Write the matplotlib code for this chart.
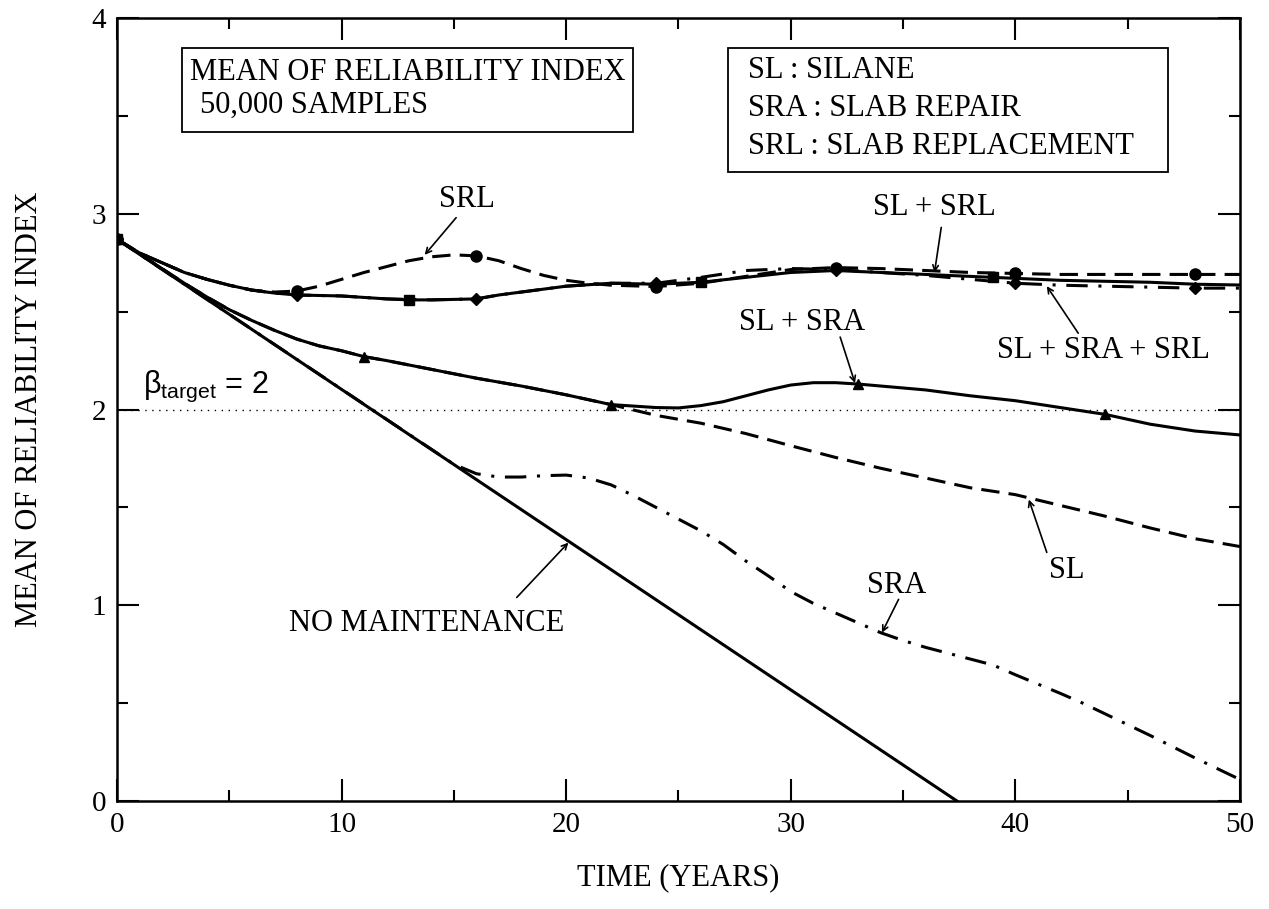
import numpy as np
import matplotlib
matplotlib.use('Agg')
from matplotlib import pyplot as plt
from matplotlib.patches import Rectangle

plt.rcParams['font.family'] = 'Liberation Serif'
plt.rcParams['mathtext.fontset'] = 'custom'
plt.rcParams['mathtext.rm'] = 'Liberation Sans'

# mean reliability index vs time (years)
nm_t = [0, 37.4]
nm_y = [2.87, 0.0]

sl_t = [0, 1, 2, 3, 4, 5, 6, 7, 8, 9, 10, 11, 12, 14, 16, 17, 18, 20, 22,
        24, 26, 28, 30, 32, 34, 36, 38, 40, 42, 44, 46, 48, 50]
sl_y = [2.87, 2.795, 2.72, 2.645, 2.575, 2.51, 2.455, 2.405, 2.36, 2.325, 2.30, 2.27, 2.25, 2.205, 2.16, 2.14, 2.12, 2.075, 2.025,
        1.97, 1.93, 1.877, 1.815, 1.755, 1.70, 1.65, 1.60, 1.565, 1.51, 1.455, 1.395, 1.34, 1.30]

sra_t = [0, 15, 16, 17, 18, 19, 20, 21, 22, 23, 24, 25, 26, 27, 28, 29, 30, 31, 32, 33, 34, 35, 36, 37, 38, 39,
         40, 42, 43, 44, 46, 48, 50]
sra_y = [2.87, 1.72, 1.672, 1.655, 1.655, 1.662, 1.665, 1.65, 1.615, 1.56, 1.50, 1.44, 1.38, 1.31, 1.226, 1.15, 1.07, 1.01, 0.96, 0.91, 0.86, 0.82, 0.785, 0.755, 0.725, 0.695,
         0.645, 0.55, 0.50, 0.445, 0.335, 0.22, 0.11]

srl_t = [0, 1, 2, 3, 4, 5, 6, 7, 8, 9, 10, 11, 12, 13, 14, 15, 16, 17, 18, 19, 20, 21, 22,
         24, 26, 28, 30, 32, 34, 36, 38, 40, 42, 44, 46, 48, 50]
srl_y = [2.87, 2.80, 2.75, 2.70, 2.665, 2.635, 2.61, 2.60, 2.605, 2.63, 2.665, 2.70, 2.73, 2.76, 2.78, 2.79, 2.785, 2.76, 2.72, 2.685, 2.66, 2.645, 2.635,
         2.628, 2.645, 2.68, 2.715, 2.725, 2.72, 2.71, 2.70, 2.695, 2.69, 2.69, 2.69, 2.69, 2.69]
srl_mk = [0, 8, 16, 24, 32, 40, 48]

slsrl_t = [0, 1, 2, 3, 4, 5, 6, 7, 8, 10, 12, 13, 14, 16, 17, 18, 20, 22, 24, 26, 28, 30, 32, 34, 36, 38, 39,
           40, 42, 44, 46, 48, 50]
slsrl_y = [2.87, 2.80, 2.75, 2.70, 2.665, 2.635, 2.61, 2.595, 2.585, 2.58, 2.565, 2.56, 2.56, 2.565, 2.585, 2.60, 2.63, 2.645, 2.64, 2.65, 2.675, 2.70, 2.71, 2.70, 2.69, 2.68, 2.675,
           2.67, 2.66, 2.655, 2.65, 2.64, 2.636]
slsrl_mk = [0, 13, 26, 39]

slsra_mk = [0, 11, 22, 33, 44]

sl_sra_t = [0, 1, 2, 3, 4, 5, 6, 7, 8, 9, 10, 11, 12, 14, 16, 17, 18, 20, 22, 24, 25, 26, 27, 28, 29, 30,
            31, 32, 33, 34, 36, 38, 40, 42, 44, 46, 48, 50]
sl_sra_y = [2.87, 2.795, 2.72, 2.645, 2.575, 2.51, 2.455, 2.405, 2.36, 2.325, 2.30, 2.27, 2.25, 2.205, 2.16, 2.14, 2.12, 2.075, 2.025, 2.01, 2.008, 2.02, 2.04, 2.07, 2.10, 2.125,
            2.137, 2.137, 2.13, 2.12, 2.10, 2.07, 2.045, 2.01, 1.975, 1.925, 1.89, 1.87]

all3_t = [0, 1, 2, 3, 4, 5, 6, 7, 8, 10, 12, 14, 16, 17, 18, 20, 22, 24, 26, 28, 30, 32, 34, 36, 38, 40,
          42, 44, 46, 48, 50]
all3_y = [2.87, 2.80, 2.75, 2.70, 2.665, 2.635, 2.61, 2.595, 2.585, 2.58, 2.565, 2.56, 2.565, 2.585, 2.60, 2.63, 2.645, 2.645, 2.675, 2.71, 2.72, 2.715, 2.70, 2.685, 2.665, 2.645,
          2.635, 2.63, 2.625, 2.62, 2.62]
all3_mk = [0, 8, 16, 24, 32, 40, 48]

beta_target = 2.0


def idx(t, years):
    return [list(t).index(y) for y in years]


fig = plt.figure(figsize=(12.69, 9.09), dpi=100)
ax = fig.add_axes([0.0922, 0.1188, 0.8849, 0.8614])

lw = 2.2
dash = (6, 3)
dashdot = (7, 3.5, 1, 3.5)

ax.axhline(beta_target, color='black', lw=1.0, ls=(0, (1, 4)))

ax.plot(nm_t, nm_y, color='black', lw=lw)
ax.plot(sra_t, sra_y, color='black', lw=lw, dashes=dashdot)
ax.plot(sl_t, sl_y, color='black', lw=lw, dashes=dash)
ax.plot(srl_t, srl_y, color='black', lw=lw, dashes=dash,
        marker='o', ms=8, markevery=idx(srl_t, srl_mk))
ax.plot(all3_t, all3_y, color='black', lw=lw, dashes=dashdot,
        marker='D', ms=6.5, markevery=idx(all3_t, all3_mk))
ax.plot(slsrl_t, slsrl_y, color='black', lw=lw,
        marker='s', ms=6.5, markevery=idx(slsrl_t, slsrl_mk))
ax.plot(sl_sra_t, sl_sra_y, color='black', lw=lw,
        marker='^', ms=7.5, markevery=idx(sl_sra_t, slsra_mk))

ax.set_xlim(0, 50)
ax.set_ylim(0, 4)
ax.set_xticks(np.arange(0, 51, 10))
ax.set_xticks(np.arange(5, 50, 10), minor=True)
ax.set_yticks(np.arange(0, 5, 1))
ax.set_yticks(np.arange(0.5, 4, 1), minor=True)
ax.tick_params(which='both', direction='in', top=True, right=True, width=1.5, labelsize=21)
ax.tick_params(which='major', length=16, pad=8)
ax.tick_params(which='minor', length=8)
for s in ax.spines.values():
    s.set_linewidth(1.8)

ax.set_xlabel('TIME (YEARS)', fontsize=22, labelpad=18)
ax.set_ylabel('MEAN OF RELIABILITY INDEX', fontsize=22, labelpad=34)

fs = 22
# info boxes
ax.add_patch(Rectangle((2.89, 3.418), 20.1, 0.429, fill=False, lw=1.3, zorder=5))
ax.text(3.25, 3.72, 'MEAN OF RELIABILITY INDEX', fontsize=fs, va='center')
ax.text(3.7, 3.556, '50,000 SAMPLES', fontsize=fs, va='center')

ax.add_patch(Rectangle((27.2, 3.213), 19.6, 0.634, fill=False, lw=1.3, zorder=5))
ax.text(28.1, 3.734, 'SL : SILANE', fontsize=fs, va='center')
ax.text(28.1, 3.54, 'SRA : SLAB REPAIR', fontsize=fs, va='center')
ax.text(28.1, 3.345, 'SRL : SLAB REPLACEMENT', fontsize=fs, va='center')

ax.text(1.16, 2.084, r'$\mathregular{\beta_{target}}$ = 2', fontsize=22,
        family='Liberation Sans', va='baseline')

# curve labels with arrows
arrow = dict(arrowstyle='->', lw=1.2, color='black', shrinkA=0, shrinkB=0)
labels = [
    ('SRL', (15.6, 3.075), (15.1, 2.98), (13.7, 2.79)),
    ('SL + SRL', (36.4, 3.03), (36.7, 2.93), (36.4, 2.70)),
    ('SL + SRA + SRL', (43.9, 2.30), (42.8, 2.39), (41.4, 2.63)),
    ('SL + SRA', (30.5, 2.447), (32.2, 2.37), (32.86, 2.135)),
    ('SL', (42.3, 1.18), (41.4, 1.27), (40.6, 1.54)),
    ('SRA', (34.7, 1.10), (34.8, 1.03), (34.06, 0.86)),
    ('NO MAINTENANCE', (13.8, 0.909), (17.8, 1.04), (20.1, 1.32)),
]
for txt, pos, tail, tip in labels:
    ax.text(pos[0], pos[1], txt, fontsize=fs, ha='center', va='center')
    ax.annotate('', xy=tip, xytext=tail, arrowprops=arrow)

fig.savefig('out.png', dpi=100)
